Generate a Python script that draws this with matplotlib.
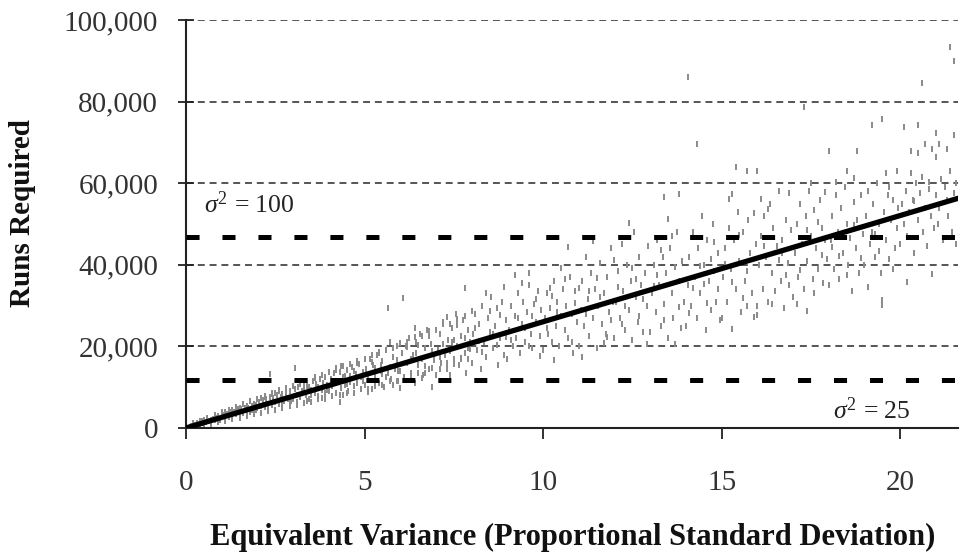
import numpy as np
import matplotlib
matplotlib.use("Agg")
import matplotlib.pyplot as plt

# ---------------- data ----------------
# scatter points: equivalent variance (x) and runs required in thousands (y)
scatter_x = [
 0.1,0.15,0.2,0.25,0.3,0.35,0.4,0.45,0.5,0.55,0.6,0.65,0.7,0.75,0.8,0.85,0.9,0.95,0.3,0.5,0.7,0.9,0.6,0.8,
 1.0,1.05,1.1,1.15,1.2,1.25,1.3,1.35,1.4,1.45,1.5,1.55,1.6,1.65,1.7,1.75,1.8,1.85,1.9,1.95,1.1,1.3,1.5,1.7,1.9,1.2,1.6,1.8,1.4,1.85,
 2.0,2.05,2.1,2.15,2.2,2.25,2.3,2.35,2.35,2.4,2.45,2.5,2.55,2.6,2.65,2.7,2.75,2.8,2.85,2.9,2.95,2.2,2.5,2.7,2.9,2.4,2.6,2.8,2.3,2.1,
 3.0,3.05,3.05,3.1,3.15,3.2,3.25,3.3,3.35,3.4,3.45,3.5,3.55,3.6,3.65,3.7,3.75,3.8,3.85,3.9,3.95,3.2,3.4,3.6,3.8,3.3,3.7,3.9,3.1,3.5,
 4.0,4.05,4.1,4.15,4.2,4.25,4.3,4.3,4.35,4.4,4.45,4.5,4.55,4.6,4.65,4.7,4.75,4.8,4.85,4.9,4.95,4.2,4.4,4.6,4.8,4.5,4.7,4.9,4.1,4.35,
 5.0,5.05,5.1,5.15,5.2,5.25,5.3,5.35,5.4,5.45,5.5,5.55,5.6,5.65,5.66,5.7,5.75,5.8,5.85,5.9,5.95,5.2,5.4,5.6,5.8,5.3,5.5,5.7,5.9,5.1,
 6.0,6.0,6.05,6.08,6.1,6.15,6.2,6.25,6.3,6.35,6.4,6.45,6.5,6.55,6.6,6.65,6.7,6.75,6.8,6.85,6.9,6.95,6.2,6.4,6.6,6.8,6.3,6.5,6.7,6.9,
 7.0,7.05,7.1,7.15,7.2,7.25,7.3,7.35,7.4,7.45,7.5,7.55,7.6,7.65,7.7,7.75,7.8,7.8,7.85,7.9,7.95,7.2,7.4,7.6,7.8,7.3,7.5,7.7,7.9,7.1,
 8.0,8.05,8.1,8.15,8.2,8.25,8.3,8.35,8.4,8.45,8.5,8.55,8.6,8.65,8.7,8.75,8.8,8.85,8.9,8.9,8.95,8.2,8.4,8.6,8.8,8.3,8.5,8.7,8.1,8.95,
 9.0,9.05,9.1,9.15,9.2,9.2,9.25,9.3,9.35,9.4,9.45,9.5,9.55,9.6,9.6,9.65,9.7,9.75,9.8,9.85,9.9,9.95,9.3,9.5,9.7,9.9,9.1,9.4,9.8,9.6,
 10.0,10.05,10.1,10.15,10.2,10.2,10.25,10.3,10.3,10.35,10.4,10.45,10.5,10.5,10.55,10.6,10.65,10.7,10.7,10.75,10.8,10.85,10.9,10.95,10.1,10.4,10.6,10.8,10.9,10.25,
 11.0,11.05,11.1,11.15,11.2,11.25,11.3,11.35,11.4,11.45,11.5,11.55,11.6,11.65,11.7,11.75,11.8,11.85,11.9,11.95,11.1,11.3,11.5,11.7,11.9,11.2,11.4,11.6,11.8,11.0,
 12.0,12.05,12.1,12.15,12.2,12.25,12.3,12.35,12.4,12.45,12.5,12.55,12.6,12.65,12.7,12.75,12.8,12.85,12.9,12.95,12.1,12.3,12.5,12.7,12.9,12.2,12.4,12.6,12.8,12.0,
 13.0,13.05,13.1,13.15,13.2,13.25,13.3,13.35,13.4,13.4,13.45,13.5,13.5,13.55,13.6,13.65,13.7,13.75,13.8,13.8,13.85,13.9,13.95,13.2,13.4,13.6,13.8,13.1,13.3,13.7,
 14.0,14.05,14.06,14.1,14.15,14.2,14.25,14.3,14.3,14.35,14.4,14.45,14.5,14.55,14.6,14.65,14.7,14.75,14.8,14.85,14.9,14.95,14.2,14.4,14.6,14.8,14.1,14.5,14.7,14.9,
 15.0,15.05,15.1,15.15,15.2,15.2,15.25,15.3,15.3,15.35,15.4,15.4,15.45,15.5,15.55,15.6,15.65,15.7,15.7,15.75,15.8,15.85,15.9,15.95,15.1,15.3,15.5,15.7,15.9,15.6,
 16.0,16.0,16.0,16.05,16.1,16.1,16.15,16.2,16.25,16.3,16.35,16.4,16.45,16.5,16.55,16.6,16.65,16.7,16.75,16.8,16.85,16.9,16.9,16.95,16.2,16.4,16.6,16.8,16.3,16.7,
 17.0,17.05,17.1,17.1,17.15,17.2,17.25,17.3,17.3,17.35,17.4,17.4,17.45,17.5,17.55,17.6,17.65,17.7,17.75,17.8,17.85,17.9,17.9,17.95,17.2,17.4,17.6,17.8,17.5,17.7,
 18.0,18.0,18.05,18.1,18.15,18.2,18.2,18.25,18.3,18.35,18.4,18.45,18.5,18.5,18.55,18.6,18.65,18.7,18.7,18.75,18.8,18.8,18.85,18.9,18.95,18.3,18.5,18.7,18.9,18.1,
 19.0,19.05,19.1,19.1,19.15,19.2,19.2,19.25,19.3,19.35,19.4,19.45,19.5,19.5,19.5,19.55,19.6,19.6,19.65,19.7,19.75,19.8,19.85,19.9,19.9,19.95,19.3,19.7,19.4,19.8,
 20.0,20.05,20.1,20.1,20.15,20.2,20.2,20.25,20.3,20.3,20.35,20.4,20.45,20.5,20.5,20.5,20.55,20.6,20.6,20.65,20.7,20.7,20.75,20.8,20.8,20.85,20.9,20.9,20.95,20.4,
 21.0,21.0,21.0,21.05,21.1,21.1,21.15,21.2,21.25,21.3,21.3,21.35,21.4,21.4,21.45,21.5,21.5,21.5,21.55,21.55,
]
scatter_y_k = [
 0.3,0.5,0.6,0.8,0.9,1.1,0.9,1.3,1.4,1.5,1.7,1.6,2.0,2.1,2.0,2.4,2.5,2.3,1.3,1.9,1.5,2.9,2.2,2.7,
 2.9,3.3,2.6,3.5,3.0,3.9,3.2,4.0,3.4,4.3,3.7,4.6,3.9,4.8,4.2,5.0,4.4,5.4,4.6,5.7,3.8,4.4,4.9,5.3,6.0,2.7,3.6,4.0,4.8,4.3,
 5.0,6.3,5.4,6.8,5.2,7.0,6.0,7.6,13.2,5.6,7.2,6.4,8.0,6.0,7.5,8.4,6.5,8.8,7.0,9.1,7.4,7.9,8.6,5.8,6.6,8.3,9.3,7.7,4.9,7.4,
 7.0,9.5,14.7,8.2,10.0,7.5,9.0,11.0,8.0,10.4,7.0,9.4,11.5,8.5,10.8,7.8,12.0,9.2,11.0,8.6,10.6,10.9,6.6,12.3,7.3,9.6,10.0,12.6,6.4,8.0,
 9.0,12.0,10.3,13.4,8.5,11.5,6.4,13.8,9.8,12.4,10.6,14.2,9.0,12.8,15.0,10.2,13.2,11.0,15.6,9.6,13.8,14.6,8.0,11.2,16.0,10.8,14.0,12.4,11.0,15.2,
 10.5,14.5,12.0,17.0,9.5,15.5,13.0,18.0,11.0,14.0,16.5,10.0,19.0,13.5,29.4,15.0,12.0,17.5,14.5,20.0,11.5,16.2,18.6,12.4,10.6,14.8,13.2,21.0,16.6,8.8,
 9.8,14.0,18.5,31.9,12.5,20.0,16.0,22.0,13.5,18.0,11.0,21.0,15.5,23.0,17.0,13.0,19.5,24.0,14.5,20.5,10.0,17.5,19.8,24.6,12.2,22.6,16.8,20.4,15.2,18.8,
 13.0,19.0,23.0,16.0,26.0,18.0,14.5,21.5,13.0,24.5,17.0,28.0,20.0,15.5,22.5,26.5,34.3,18.5,13.5,24.0,21.0,20.6,18.8,25.2,22.0,27.2,21.6,16.8,19.6,17.4,
 16.0,23.0,28.0,19.0,25.5,14.5,30.0,21.0,17.5,27.0,23.5,32.0,19.5,25.0,29.5,15.5,22.0,31.0,34.6,18.0,26.5,21.4,33.0,23.0,27.6,18.6,28.6,20.4,24.6,22.4,
 17.0,24.0,30.0,20.0,37.5,27.5,22.0,33.0,18.5,25.5,31.0,21.0,28.5,38.0,35.0,23.0,19.5,30.5,26.0,33.5,22.5,29.0,27.0,24.4,27.4,17.6,21.6,35.6,31.6,20.2,
 19.0,27.0,33.0,23.0,34.3,29.5,21.0,16.7,36.0,25.0,31.0,20.0,39.2,27.5,34.0,24.0,30.0,44.4,22.0,37.0,28.0,18.5,33.5,26.0,24.6,28.4,36.6,21.2,30.6,32.4,
 20.0,29.0,36.0,25.0,42.0,31.5,22.5,38.0,27.0,34.0,19.5,30.0,40.5,25.5,33.0,23.0,37.0,28.5,44.0,31.0,17.5,33.6,36.8,20.8,26.4,28.0,45.8,32.2,22.2,34.4,
 22.0,31.0,38.5,27.0,45.0,33.5,24.0,40.0,29.0,36.0,21.5,48.0,32.0,26.0,42.0,35.0,23.5,38.0,30.0,44.5,34.6,29.8,39.2,27.4,20.6,25.4,50.2,36.4,31.6,41.2,
 23.5,33.0,40.0,28.5,46.0,35.0,25.0,42.0,56.6,30.5,38.0,51.2,22.0,44.0,33.0,27.0,39.5,48.0,57.3,36.0,24.5,41.0,31.0,37.4,26.4,47.0,29.6,34.8,43.6,20.6,
 25.0,35.0,86.0,42.0,30.0,48.0,37.0,69.6,27.0,44.0,33.0,52.0,40.0,24.0,46.0,36.0,29.0,50.0,38.5,31.0,43.0,26.5,34.4,39.6,30.6,45.6,28.2,35.2,41.4,34.0,
 27.0,37.0,44.0,31.0,56.1,49.0,39.0,57.3,24.3,46.0,64.0,34.0,53.0,41.0,28.5,48.0,36.0,63.0,30.0,51.0,43.0,33.0,27.2,45.0,40.2,35.8,47.4,38.6,52.6,31.8,
 63.0,30.0,27.7,40.0,56.1,47.0,34.0,52.0,42.0,31.0,55.0,38.0,49.0,33.5,44.5,58.0,36.0,46.0,29.5,51.0,40.5,57.6,35.0,48.5,44.6,30.4,41.2,37.4,53.6,43.0,
 32.0,43.0,30.4,50.0,37.0,55.0,45.0,78.7,34.0,52.0,28.7,41.0,58.0,47.0,36.5,53.5,44.0,39.0,56.0,49.0,35.5,57.8,46.0,41.5,38.8,48.6,33.2,42.4,60.0,50.6,
 67.9,35.0,46.0,52.0,39.0,60.3,57.0,48.0,36.5,54.0,43.0,59.0,63.0,50.0,40.0,46.5,33.5,61.3,55.5,44.0,67.9,51.0,38.0,57.0,47.5,42.2,37.6,49.8,41.6,44.4,
 40.0,52.0,34.6,58.0,45.0,74.3,48.0,55.0,42.0,60.0,50.0,38.0,75.7,31.4,30.1,53.0,62.5,46.0,57.0,41.5,51.0,56.0,44.0,63.0,49.0,54.0,47.6,59.0,43.4,39.0,
 45.0,55.0,73.8,50.0,58.0,35.8,47.0,53.0,67.9,62.5,56.0,43.0,60.0,74.3,67.4,51.0,57.5,84.6,61.5,48.0,69.6,54.0,44.5,60.3,58.5,52.0,68.4,37.7,49.0,55.6,
 72.3,66.4,57.0,50.0,69.6,54.0,61.0,46.0,59.0,68.4,56.0,52.0,93.4,63.0,48.0,90.0,71.8,57.5,60.0,45.0,
]

# the dense band of points hugging the trend line at low variance
band_x = [
 0.2,0.4,0.6,0.8,1.0,1.2,1.4,1.6,1.8,2.0,2.2,2.4,2.6,2.8,3.0,3.2,3.4,3.6,3.8,4.0,
 4.2,4.4,4.6,4.8,5.0,5.2,5.4,5.6,5.8,6.0,6.2,6.4,6.6,6.8,7.0,7.2,7.4,7.6,7.8,8.0,
 0.3,0.5,0.7,0.9,1.1,1.3,1.5,1.7,1.9,2.1,2.3,2.5,2.7,2.9,3.1,3.3,3.5,3.7,3.9,4.1,
 4.3,4.5,4.7,4.9,5.1,5.3,5.5,5.7,5.9,6.1,6.3,6.5,6.7,6.9,7.1,7.3,7.5,7.7,7.9,
 0.45,0.95,1.45,1.95,2.45,2.95,3.45,3.95,4.45,4.95,5.45,5.95,6.45,6.95,7.45,7.95,
]
band_y_k = [
 1.2,1.8,2.5,3.2,3.9,4.5,5.1,5.9,6.5,7.2,7.6,8.6,9.0,9.9,10.4,11.2,11.6,12.5,13.0,13.8,
 14.3,15.2,15.6,16.5,17.0,17.8,18.5,19.2,19.6,20.8,21.0,22.3,22.6,23.8,24.0,25.4,25.6,26.8,27.4,28.6,
 0.2,0.6,0.9,1.4,1.7,2.2,2.5,2.9,3.4,3.7,4.2,4.4,5.0,5.3,5.6,6.2,6.4,7.0,7.1,7.8,
 8.0,8.6,8.7,9.5,9.6,10.4,10.5,11.4,11.4,12.5,12.4,13.6,13.4,14.8,14.5,16.0,15.6,17.2,16.8,
 1.7,2.0,4.6,4.4,7.3,6.6,10.0,9.2,12.7,11.6,15.4,14.0,18.3,16.6,21.2,19.4,
]

# fitted trend line end points (x, runs)
trend_x = [0.0, 21.7]
trend_y = [0, 56500]

# reference levels
sigma100_level = 46700
sigma25_level = 11700

x_ticks = [0, 5, 10, 15, 20]
y_ticks = [0, 20000, 40000, 60000, 80000, 100000]
y_tick_labels = ["0", "20,000", "40,000", "60,000", "80,000", "100,000"]

# ---------------- drawing ----------------
plt.rcParams["font.family"] = ["Liberation Serif", "DejaVu Serif"]
plt.rcParams["mathtext.fontset"] = "custom"
plt.rcParams["mathtext.rm"] = "Liberation Serif"
plt.rcParams["mathtext.it"] = "Liberation Serif:italic"
plt.rcParams["lines.scale_dashes"] = False

fig = plt.figure(figsize=(9.6, 5.57), dpi=100)
ax = fig.add_axes([186/960, 1 - 428/557, (958-186)/960, (428-20)/557])

sx = np.concatenate([np.array(scatter_x), np.array(band_x)])
sy = np.concatenate([np.array(scatter_y_k), np.array(band_y_k)]) * 1000

# grid lines
for yv in y_ticks[1:]:
    ax.axhline(yv, color="#555555", lw=1.4, linestyle=(0, (5, 3.5)), zorder=1)

# scatter
ax.plot(sx, sy, linestyle="none", marker="|", markersize=3.8, mew=1.4,
        color="#8a8a8a", zorder=2)

# reference dashed lines
for lvl in (sigma100_level, sigma25_level):
    ax.axhline(lvl, color="black", lw=3.6, linestyle=(0, (9.4, 16.5)),
               dash_capstyle="butt", zorder=3)

# trend line
ax.plot(trend_x, trend_y, color="black", lw=3.8, solid_capstyle="round", zorder=4)

ax.set_xlim(0, 21.62)
ax.set_ylim(0, 100000)

ax.set_xticks(x_ticks)
ax.set_xticklabels([str(t) for t in x_ticks])
ax.set_yticks(y_ticks)
ax.set_yticklabels(y_tick_labels)

ax.tick_params(axis="y", direction="inout", length=12, width=1.3, pad=14,
               labelsize=21, labelcolor="#333333", color="#222222")
ax.tick_params(axis="x", direction="out", length=8, width=1.3, pad=22,
               labelsize=21, labelcolor="#333333", color="#222222")

for side in ("top", "right"):
    ax.spines[side].set_visible(False)
for side in ("left", "bottom"):
    ax.spines[side].set_linewidth(1.5)
    ax.spines[side].set_color("#222222")

# annotations
ax.text(0.5, 54800, r"$\it{\sigma}^{2}$ = 100", fontsize=18.5, color="#222222",
        ha="left", va="center")
ax.text(20.3, 4200, r"$\it{\sigma}^{2}$ = 25", fontsize=18.5, color="#222222",
        ha="right", va="center")

# axis labels
fig.text(573/960, 1 - 537/557, "Equivalent Variance (Proportional Standard Deviation)",
         fontsize=22, fontweight="bold", ha="center", va="center", color="#111111")
fig.text(23/960, 1 - 213/557, "Runs Required", fontsize=21, fontweight="bold",
         rotation=90, ha="center", va="center", color="#111111")

fig.savefig("out.png", dpi=100)
